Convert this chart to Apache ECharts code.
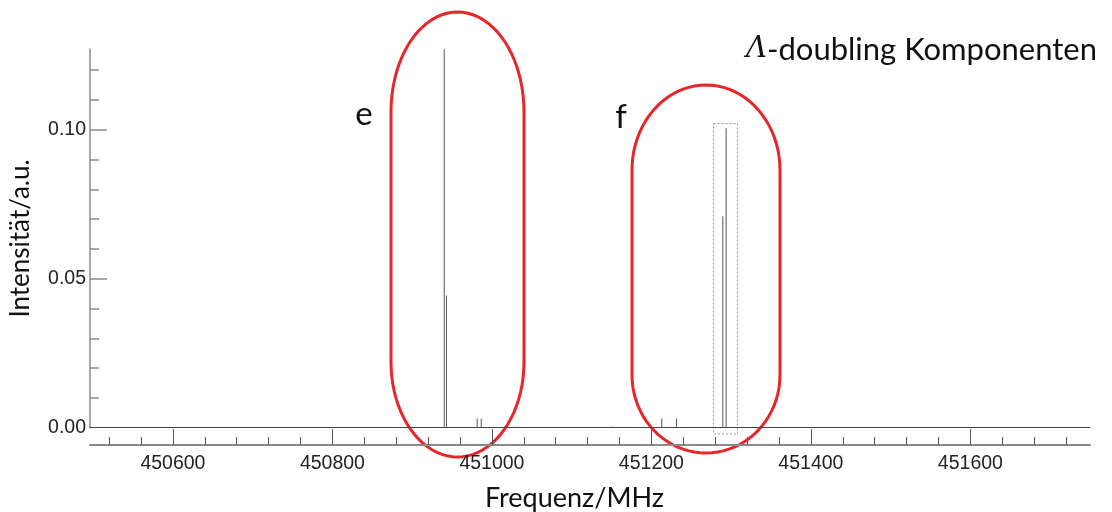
<!DOCTYPE html>
<html>
<head>
<meta charset="utf-8">
<script src="https://cdn.jsdelivr.net/npm/echarts@6/dist/echarts.min.js"></script>
<style>html,body{margin:0;padding:0;background:#fff;}#c{width:1112px;height:512px;}</style>
</head>
<body>
<div id="c"></div>
<script>
// Line positions (MHz) and intensities (a.u.)
const frequencies = [450940.2, 450943.0, 450981.5, 450986.6, 451028.0, 451151.0, 451213.0, 451231.4, 451289.6, 451293.7];
const intensities = [0.127, 0.0444, 0.0031, 0.0031, 0.0004, 0.0004, 0.0031, 0.0031, 0.0710, 0.1005];
const xMajorTicks = [450600, 450800, 451000, 451200, 451400, 451600];
const xMinorTicks = [450520, 450560, 450640, 450680, 450720, 450760, 450840, 450880, 450920, 450960,
  451040, 451080, 451120, 451160, 451240, 451280, 451320, 451360, 451440, 451480, 451520, 451560,
  451640, 451680, 451720];
const yLabelValues = [0, 0.05, 0.10];
const yMajorTicks = [0.05, 0.10];
const yMinorTicks = [0.01, 0.02, 0.03, 0.04, 0.06, 0.07, 0.08, 0.09, 0.11, 0.12];
const xRange = [450496, 451750];
const yRange = [0, 0.127];

// Stadium-shaped outline with elliptical ends (annotation drawing)
function stadium(x0, y0, x1, y1, ryTop, ryBot) {
  const pts = [];
  const cx = (x0 + x1) / 2, rx = (x1 - x0) / 2;
  const N = 40;
  for (let i = 0; i <= N; i++) {
    const a = Math.PI + Math.PI * i / N;
    pts.push([cx + rx * Math.cos(a), y0 + ryTop + ryTop * Math.sin(a)]);
  }
  for (let i = 0; i <= N; i++) {
    const a = Math.PI * i / N;
    pts.push([cx + rx * Math.cos(a), y1 - ryBot + ryBot * Math.sin(a)]);
  }
  return pts;
}

const chart = echarts.init(document.getElementById('c'), null, {renderer: 'canvas'});
const labelFont = {fontFamily: 'Liberation Sans', fontSize: 19.5, color: '#222'};
const textFont = 'Lato';

const option = {
  animation: false,
  backgroundColor: '#fff',
  title: {
    text: '{i|Λ}-doubling Komponenten',
    right: 10, top: 29,
    textStyle: {
      fontFamily: textFont, fontSize: 31, fontWeight: 'normal', color: '#111',
      rich: {i: {fontFamily: 'DejaVu Serif', fontStyle: 'italic', fontSize: 29, color: '#111'}}
    }
  },
  grid: {left: 90, right: 22, top: 49.3, bottom: 84.3, containLabel: false, outerBoundsMode: 'none'},
  xAxis: [
    {
      type: 'value', min: xRange[0], max: xRange[1], position: 'bottom', offset: 17.3,
      axisLine: {show: true, onZero: false, lineStyle: {color: '#8a8a8a', width: 2}},
      axisTick: {show: true, inside: true, length: 16, customValues: xMajorTicks, lineStyle: {color: '#555', width: 1}},
      axisLabel: {show: true, customValues: xMajorTicks, margin: 9, formatter: v => String(v), ...labelFont},
      splitLine: {show: false},
      name: 'Frequenz/MHz', nameLocation: 'middle', nameGap: 40,
      nameTextStyle: {fontFamily: textFont, fontSize: 27, color: '#111', padding: [0, 31, 0, 0]}
    },
    {
      type: 'value', min: xRange[0], max: xRange[1], position: 'bottom', offset: 17.3,
      axisLine: {show: false, onZero: false},
      axisTick: {show: true, inside: true, length: 8, customValues: xMinorTicks, lineStyle: {color: '#555', width: 1}},
      axisLabel: {show: false}, splitLine: {show: false}
    },
    {
      type: 'value', min: xRange[0], max: xRange[1], position: 'bottom', offset: 0,
      axisLine: {show: true, onZero: false, lineStyle: {color: '#444', width: 1}},
      axisTick: {show: false}, axisLabel: {show: false}, splitLine: {show: false}
    }
  ],
  yAxis: [
    {
      type: 'value', min: yRange[0], max: yRange[1], position: 'left',
      axisLine: {show: true, onZero: false, lineStyle: {color: '#8a8a8a', width: 1.5}},
      axisTick: {show: true, inside: true, length: 17, customValues: yMajorTicks, lineStyle: {color: '#8a8a8a', width: 1.5}},
      axisLabel: {show: true, customValues: yLabelValues, margin: 4, formatter: v => v.toFixed(2), ...labelFont},
      splitLine: {show: false},
      name: 'Intensität/a.u.', nameLocation: 'middle', nameRotate: 90, nameGap: 56,
      nameTextStyle: {fontFamily: textFont, fontSize: 26, color: '#111'}
    },
    {
      type: 'value', min: yRange[0], max: yRange[1], position: 'left',
      axisLine: {show: false, onZero: false},
      axisTick: {show: true, inside: true, length: 9, customValues: yMinorTicks, lineStyle: {color: '#8a8a8a', width: 1.5}},
      axisLabel: {show: false}, splitLine: {show: false}
    }
  ],
  series: [{
    type: 'bar', xAxisIndex: 0, yAxisIndex: 0, barWidth: 1,
    itemStyle: {color: '#555'},
    data: frequencies.map((f, i) => [f, intensities[i]])
  }],
  graphic: [
    {type: 'polygon', shape: {points: stadium(391, 12, 524, 457, 100, 95)},
     style: {fill: 'none', stroke: '#e8262a', lineWidth: 3}},
    {type: 'polygon', shape: {points: stadium(632, 85, 780, 453, 85, 78)},
     style: {fill: 'none', stroke: '#e8262a', lineWidth: 3}},
    {type: 'rect', shape: {x: 713.5, y: 123.5, width: 24, height: 310.5},
     style: {fill: 'none', stroke: '#999', lineWidth: 1, lineDash: [2, 2]}},
    {type: 'text', x: 364, y: 114, style: {text: 'e', fontFamily: textFont, fontSize: 33, fill: '#111', align: 'center', verticalAlign: 'middle'}},
    {type: 'text', x: 621, y: 117, style: {text: 'f', fontFamily: textFont, fontSize: 33, fill: '#111', align: 'center', verticalAlign: 'middle'}}
  ]
};
chart.setOption(option);
</script>
</body>
</html>
